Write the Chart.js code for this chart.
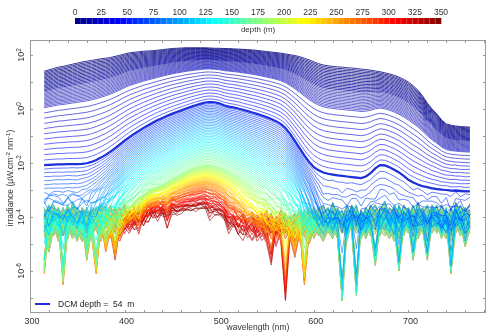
<!DOCTYPE html>
<html>
<head>
<meta charset="utf-8">
<script src="https://cdn.jsdelivr.net/npm/chart.js@4.4.1/dist/chart.umd.min.js"></script>
<style>
  html, body { margin: 0; padding: 0; background: #fff; }
  canvas { display: block; }
</style>
</head>
<body>
<canvas id="irrChart" width="487" height="332"></canvas>
<script>
// wavelength grid (nm)
const wavelengths = [315,320,325,330,335,340,345,350,355,360,365,370,375,380,385,390,395,400,405,410,
  415,420,425,430,435,440,445,450,455,460,465,470,475,480,485,490,495,500,505,510,
  515,520,525,530,535,540,545,550,555,560,565,570,575,580,585,590,595,600,605,610,
  615,620,625,630,635,640,645,650,655,660,665,670,675,680,685,690,695,700,705,710,
  715,720,725,730,735,740,745,750,755,760,765];

// log10 irradiance: top cast, DCM (54 m), 175 m, 350 m
const surfaceLog = [1.40,1.45,1.50,1.55,1.58,1.62,1.66,1.70,1.74,1.77,1.80,1.83,1.86,1.88,1.91,1.95,1.99,2.04,2.08,2.10,
  2.12,2.14,2.15,2.16,2.18,2.20,2.22,2.24,2.25,2.26,2.27,2.27,2.27,2.27,2.27,2.26,2.25,2.25,2.24,2.24,
  2.23,2.22,2.21,2.20,2.19,2.17,2.15,2.13,2.11,2.09,2.07,2.04,2.01,1.98,1.94,1.88,1.82,1.75,1.68,1.63,
  1.60,1.58,1.56,1.55,1.53,1.52,1.50,1.48,1.46,1.44,1.41,1.38,1.34,1.30,1.25,1.18,1.10,1.00,0.86,0.70,
  0.48,0.22,0.00,-0.18,-0.40,-0.55,-0.60,-0.63,-0.65,-0.66,-0.67];
const dcmLog = [-2.08,-2.07,-2.06,-2.05,-2.05,-2.04,-2.04,-2.04,-2.03,-2.01,-1.96,-1.89,-1.80,-1.70,-1.58,-1.45,-1.31,-1.17,-1.04,-0.92,
  -0.81,-0.70,-0.60,-0.50,-0.41,-0.33,-0.25,-0.18,-0.11,-0.05,0.02,0.08,0.14,0.19,0.24,0.26,0.25,0.21,0.14,0.09,
  0.06,0.02,-0.03,-0.08,-0.13,-0.18,-0.24,-0.30,-0.37,-0.45,-0.55,-0.70,-0.92,-1.18,-1.45,-1.72,-1.96,-2.15,-2.27,-2.35,
  -2.40,-2.43,-2.46,-2.48,-2.50,-2.52,-2.54,-2.56,-2.50,-2.38,-2.20,-2.08,-2.09,-2.16,-2.25,-2.35,-2.48,-2.62,-2.72,-2.80,
  -2.86,-2.90,-2.94,-2.97,-2.99,-3.00,-3.02,-3.03,-3.04,-3.05,-3.05];
const midLog = [-8.0,-8.0,-8.0,-8.0,-8.0,-8.0,-8.0,-8.0,-7.8,-7.5,-7.1,-6.7,-6.2,-5.7,-5.2,-4.75,-4.35,-4.00,-3.72,-3.50,
  -3.30,-3.15,-3.03,-2.95,-2.87,-2.80,-2.70,-2.60,-2.50,-2.40,-2.30,-2.22,-2.15,-2.10,-2.06,-2.07,-2.10,-2.15,-2.22,-2.30,
  -2.40,-2.50,-2.62,-2.75,-2.87,-3.00,-3.12,-3.25,-3.40,-3.55,-3.72,-3.90,-4.15,-4.40,-4.80,-5.30,-6.00,-7.50,-10.0,-13.0,
  -13.0,-13.0,-13.0,-13.0,-13.0,-13.0,-13.0,-13.0,-12.8,-12.5,-12.2,-12.0,-12.1,-12.4,-12.8,-13.0,-13.0,-13.0,-13.0,-13.0,
  -13.0,-13.0,-13.0,-13.0,-13.0,-13.0,-13.0,-13.0,-13.0,-13.0,-13.0];
const deepLog = [-15,-15,-15,-15,-15,-15,-15,-15,-15,-14,-13,-12,-11,-10,-9,-8,-7,-6,-5.4,-4.9,
  -4.6,-4.4,-4.25,-4.15,-4.07,-4.0,-3.95,-3.9,-3.85,-3.8,-3.75,-3.7,-3.67,-3.65,-3.66,-3.72,-3.8,-3.92,-4.1,-4.3,
  -4.55,-4.8,-5.1,-5.4,-5.7,-6.0,-6.3,-6.6,-6.95,-7.3,-7.6,-8.0,-8.5,-9.0,-10,-11,-12,-13,-14,-15,
  -15,-15,-15,-15,-15,-15,-15,-15,-15,-15,-15,-15,-15,-15,-15,-15,-15,-15,-15,-15,
  -15,-15,-15,-15,-15,-15,-15,-15,-15,-15,-15];
const anchorDepths = [0, 54, 175, 350];

// sensor noise floor (log10), four patterns
const noiseA = [-5.8,-4.1,-3.8,-4.3,-3.9,-4.5,-3.7,-4.2,-4.6,-3.9,
  -4.4,-5.8,-4.0,-3.8,-4.5,-4.1,-3.9,-4.4,-4.0,-4.6,
  -5.7,-4.2,-3.9,-4.5,-4.1,-4.3,-4.7,-4.2,-4.6,-4.3,
  -4.8,-4.4,-4.6,-4.3,-4.9,-4.5,-4.4,-4.7,-4.3,-4.8,
  -4.5,-4.2,-4.6,-4.3,-4.1,-4.7,-4.4,-4.0,-4.5,-4.3,
  -4.6,-7.0,-4.4,-4.1,-4.6,-4.2,-3.9,-4.5,-4.1,-3.8,
  -4.3,-3.7,-4.2,-4.0,-4.6,-3.8,-4.1,-4.4,-3.9,-4.2,
  -5.5,-4.0,-3.7,-4.3,-3.9,-4.5,-3.8,-4.1,-4.4,-3.7,
  -4.2,-5.3,-3.9,-4.3,-3.8,-4.2,-4.6,-3.7,-4.1,-3.9,-4.3];
const noiseB = [-4.2,-3.8,-4.4,-4.0,-6.2,-4.1,-4.5,-3.9,-4.3,-4.7,
  -3.9,-4.2,-4.6,-4.0,-4.3,-5.3,-4.1,-3.8,-4.4,-4.2,
  -4.0,-4.5,-4.1,-4.3,-4.8,-4.2,-4.4,-4.6,-4.2,-4.5,
  -4.3,-4.7,-4.4,-4.6,-4.2,-4.8,-4.5,-4.3,-4.6,-5.2,
  -4.4,-4.7,-4.2,-4.5,-4.8,-4.3,-4.1,-4.6,-4.2,-4.4,
  -4.0,-4.5,-4.2,-4.7,-4.1,-6.2,-4.3,-3.9,-4.4,-4.1,
  -3.9,-4.4,-4.0,-4.3,-3.8,-4.2,-6.6,-4.0,-4.3,-3.8,
  -4.1,-4.4,-3.9,-4.2,-4.6,-3.8,-4.3,-4.0,-5.3,-4.1,
  -3.9,-4.4,-4.1,-3.8,-4.5,-4.0,-4.2,-3.9,-4.4,-4.0,-3.8];
const noiseC = [-3.9,-4.4,-4.0,-4.6,-4.2,-3.8,-4.3,-4.5,-4.0,-5.3,
  -4.2,-3.9,-4.4,-4.1,-3.8,-4.3,-4.6,-4.2,-4.0,-4.4,
  -4.1,-4.6,-4.3,-4.0,-4.5,-4.2,-6.3,-4.4,-4.7,-4.2,
  -4.5,-4.3,-4.8,-4.4,-4.6,-4.2,-4.7,-4.5,-4.2,-4.6,
  -4.3,-4.8,-5.3,-4.4,-4.2,-4.5,-4.3,-4.7,-5.6,-4.2,
  -4.4,-4.1,-4.6,-4.3,-4.0,-4.4,-4.7,-4.2,-3.9,-4.3,
  -4.1,-4.0,-4.5,-6.8,-4.2,-3.9,-4.3,-4.1,-4.5,-4.0,
  -3.8,-4.2,-4.4,-3.9,-4.1,-5.7,-4.0,-4.3,-3.8,-4.2,
  -4.0,-4.3,-3.8,-4.1,-4.4,-3.9,-5.8,-4.1,-3.8,-4.2,-4.0];
const noiseD = [-4.3,-5.0,-4.1,-3.9,-4.4,-4.0,-4.2,-4.6,-3.9,-4.1,
  -4.5,-4.0,-3.8,-5.0,-4.2,-3.9,-4.4,-4.1,-4.5,-3.9,
  -4.4,-4.1,-4.7,-4.2,-4.0,-4.6,-4.3,-4.1,-4.5,-4.8,
  -4.2,-4.6,-4.3,-4.5,-4.3,-6.3,-4.6,-4.4,-4.8,-4.3,
  -4.6,-4.4,-4.1,-4.7,-4.4,-4.2,-4.6,-4.4,-4.1,-4.8,
  -4.3,-4.2,-4.5,-5.2,-4.3,-4.0,-4.5,-4.1,-4.3,-4.6,
  -4.2,-4.5,-3.9,-4.2,-4.4,-4.1,-3.8,-4.5,-4.0,-4.4,
  -4.3,-3.9,-4.2,-4.5,-3.8,-4.1,-4.4,-3.9,-4.2,-4.5,
  -4.1,-3.8,-4.3,-4.0,-4.2,-4.5,-3.9,-4.3,-4.0,-4.8,-4.1];
const noisePatterns = [noiseA, noiseB, noiseC, noiseD];
const noiseOffsets = [0, 0.25, -0.2, 0.1, -0.3, 0.2, -0.1];
const noiseBase = -4.2;

const dcmDepth = 54;
const maxDepth = 350;
const depthTicks = [0, 25, 50, 75, 100, 125, 150, 175, 200, 225, 250, 275, 300, 325, 350];
const xTickLabels = [300, 400, 500, 600, 700];
const yTickExps = [2, 0, -2, -4, -6];

// profile sampling: dense near the surface, every 3 m below
const castDepths = [];
for (let z = 0; z <= 21; z += 0.75) castDepths.push(z);
for (let z = 24; z < 350; z += 3) castDepths.push(z);
castDepths.push(350);

const FONT = '"Liberation Sans", Arial, Helvetica, sans-serif';
const TEXT = "#333";

function jet(t) {
  const c = (v) => Math.round(255 * Math.max(0, Math.min(1, v)));
  return `rgb(${c(1.5 - Math.abs(4 * t - 3))},${c(1.5 - Math.abs(4 * t - 2))},${c(1.5 - Math.abs(4 * t - 1))})`;
}

// attenuation (decades per metre) of each layer, from the read spectra
const layerSpectra = [surfaceLog, dcmLog, midLog, deepLog];
const kdLayers = [0, 1, 2].map((l) =>
  wavelengths.map((_, i) =>
    (layerSpectra[l][i] - layerSpectra[l + 1][i]) / (anchorDepths[l + 1] - anchorDepths[l])
  )
);

function castProfile(z, k) {
  const l = z <= anchorDepths[1] ? 0 : z <= anchorDepths[2] ? 1 : 2;
  const noise = noisePatterns[k % 4];
  const jitterPattern = noisePatterns[(k + 1) % 4];
  const off = noiseOffsets[Math.floor(k / 4) % noiseOffsets.length];
  return wavelengths.map((wl, i) => {
    let logE = layerSpectra[l][i] - kdLayers[l][i] * (z - anchorDepths[l]);
    // signals close to the floor pick up noise
    const w = Math.max(0, Math.min(1, (noiseBase + 1.3 - logE) / 1.3));
    logE += 0.7 * w * (jitterPattern[i] - noiseBase);
    return { x: wl, y: Math.pow(10, logE) + Math.pow(10, noise[i] + off) };
  });
}

const datasets = [
  {
    data: wavelengths.map((wl, i) => ({ x: wl, y: Math.pow(10, dcmLog[i]) })),
    borderColor: "#1b30d8",
    borderWidth: 2.2,
  },
];
castDepths.forEach((z, k) => {
  datasets.push({
    data: castProfile(z, k),
    borderColor: jet(z / maxDepth),
    borderWidth: z < 12 ? 0.8 : 0.6,
  });
});

function richText(ctx, parts, cx, cy, size) {
  // parts: [text, isSuperscript]
  const widths = parts.map(([t, sup]) => {
    ctx.font = `${sup ? size * 0.72 : size}px ${FONT}`;
    return ctx.measureText(t).width;
  });
  let x = cx - widths.reduce((a, b) => a + b, 0) / 2;
  parts.forEach(([t, sup], i) => {
    ctx.font = `${sup ? size * 0.72 : size}px ${FONT}`;
    ctx.fillText(t, x, cy + (sup ? -size * 0.38 : 0));
    x += widths[i];
  });
}

const decorPlugin = {
  id: "decor",
  afterDraw(chart) {
    const { ctx, chartArea: a, scales } = chart;
    const xs = scales.x, ys = scales.y;
    ctx.save();

    // frame and inward ticks
    ctx.strokeStyle = "#9a9a9a";
    ctx.lineWidth = 1;
    ctx.strokeRect(a.left + 0.5, a.top + 0.5, a.right - a.left - 1, a.bottom - a.top - 1);
    ctx.beginPath();
    for (let v = 300; v <= 780; v += 20) {
      const px = Math.round(xs.getPixelForValue(v)) + 0.5;
      ctx.moveTo(px, a.bottom); ctx.lineTo(px, a.bottom - 3);
      ctx.moveTo(px, a.top); ctx.lineTo(px, a.top + 3);
    }
    for (let e = -7; e <= 2; e++) {
      const py = Math.round(ys.getPixelForValue(Math.pow(10, e))) + 0.5;
      ctx.moveTo(a.left, py); ctx.lineTo(a.left + 3, py);
      ctx.moveTo(a.right, py); ctx.lineTo(a.right - 3, py);
    }
    ctx.stroke();

    ctx.fillStyle = TEXT;
    ctx.textAlign = "center";
    ctx.textBaseline = "middle";

    // x tick labels and title
    ctx.font = `9px ${FONT}`;
    xTickLabels.forEach((v) => ctx.fillText(String(v), xs.getPixelForValue(v) + 2, 322));
    ctx.font = `8.5px ${FONT}`;
    ctx.fillText("wavelength (nm)", (a.left + a.right) / 2, 327.5);

    // y tick labels, rotated
    ctx.textAlign = "left";
    ctx.textBaseline = "alphabetic";
    yTickExps.forEach((e) => {
      const py = ys.getPixelForValue(Math.pow(10, e));
      ctx.save();
      ctx.translate(24, py);
      ctx.rotate(-Math.PI / 2);
      richText(ctx, [["10", false], [String(e), true]], 0, 0, 9);
      ctx.restore();
    });

    // y title
    ctx.save();
    ctx.translate(10, 178);
    ctx.rotate(-Math.PI / 2);
    richText(ctx, [["irradiance (\u00b5W.cm", false], ["-2", true], [" nm", false], ["-1", true], [")", false]], 0, 3, 8.5);
    ctx.restore();

    // legend
    ctx.strokeStyle = "#1b30d8";
    ctx.lineWidth = 2;
    ctx.beginPath();
    ctx.moveTo(35, 304); ctx.lineTo(50, 304);
    ctx.stroke();
    ctx.font = `8.5px ${FONT}`;
    ctx.fillStyle = "#222";
    ctx.textBaseline = "middle";
    ctx.fillText("DCM depth =  " + dcmDepth + "  m", 58, 304.5);

    // depth colour bar
    const cbL = 75, cbR = 441, cbT = 18, cbB = 24, n = 64;
    const bw = (cbR - cbL) / n;
    for (let b = 0; b < n; b++) {
      ctx.fillStyle = jet((b + 0.5) / n);
      ctx.fillRect(cbL + b * bw, cbT, bw + 0.3, cbB - cbT);
    }
    ctx.strokeStyle = "rgba(255,255,255,0.35)";
    ctx.lineWidth = 0.6;
    ctx.beginPath();
    for (let b = 1; b < n; b++) {
      const px = cbL + b * bw;
      ctx.moveTo(px, cbT); ctx.lineTo(px, cbB);
    }
    ctx.stroke();
    ctx.fillStyle = TEXT;
    ctx.font = `8.5px ${FONT}`;
    ctx.textAlign = "center";
    depthTicks.forEach((d) => {
      ctx.fillText(String(d), cbL + (d / maxDepth) * (cbR - cbL), 12.5);
    });
    ctx.font = `8px ${FONT}`;
    ctx.fillText("depth (m)", (cbL + cbR) / 2, 29.5);

    ctx.restore();
  },
};

new Chart(document.getElementById("irrChart"), {
  type: "line",
  data: { datasets },
  options: {
    responsive: false,
    devicePixelRatio: 1,
    animation: false,
    parsing: false,
    events: [],
    layout: { padding: { left: 30, right: 1, top: 40, bottom: 19 } },
    elements: {
      line: { tension: 0, fill: false },
      point: { radius: 0, hoverRadius: 0 },
    },
    plugins: { legend: { display: false }, tooltip: { enabled: false } },
    scales: {
      x: { type: "linear", display: false, min: 300, max: 782 },
      y: { type: "logarithmic", display: false, min: Math.pow(10, -7.556), max: Math.pow(10, 2.556) },
    },
  },
  plugins: [decorPlugin],
});
</script>
</body>
</html>
